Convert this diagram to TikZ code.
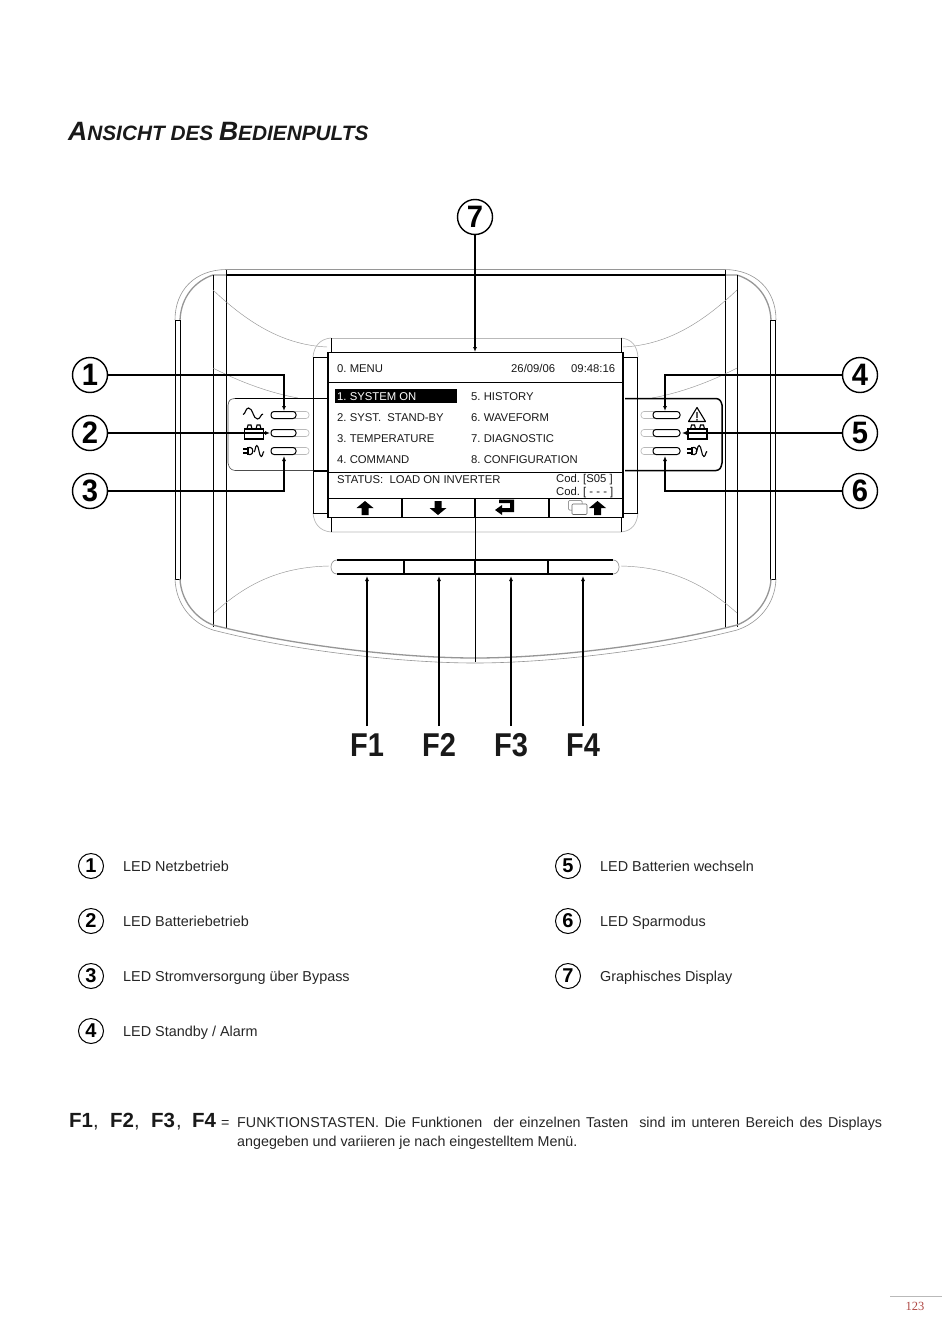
\documentclass[tikz,border=0pt]{standalone}
\usepackage{fontspec}
\setmainfont{Liberation Sans}
\usetikzlibrary{arrows.meta}
\definecolor{pagered}{RGB}{176,74,70}
\definecolor{soft}{RGB}{150,150,150}
\definecolor{softer}{RGB}{185,185,185}
\newcommand{\fsz}[1]{\fontsize{#1}{#1}\selectfont}
\newcommand{\narrow}[1]{\scalebox{.94}[1]{#1}}
\tikzset{
 x=1pt,y=-1pt,
 body/.style={line width=.9pt,black},
 hair/.style={line width=.45pt,soft},
 grayarc/.style={line width=1.3pt,soft},
 lead/.style={line width=1.1pt,black},
 leadtip/.style={lead,-{Latex[length=5pt,width=4pt]}},
 callout/.style={circle,draw,line width=1.4pt,minimum size=35pt,inner sep=0pt,font=\bfseries\fsz{31}},
 legcirc/.style={circle,draw,line width=1pt,minimum size=25pt,inner sep=0pt,font=\bfseries\fsz{20}},
 lcd/.style={anchor=base west,inner sep=0pt,font=\frenchspacing\fsz{11.3},text=black!90},
 leg/.style={anchor=base west,inner sep=0pt,font=\fsz{14.4},text=black!85},
 fkey/.style={anchor=base,inner sep=0pt,font=\bfseries\fsz{33},text=black!90},
 fsmall/.style={anchor=base west,inner sep=0pt,font=\bfseries\fsz{20.5},text=black!90},
 para/.style={anchor=base west,inner sep=0pt,font=\fsz{14.3},text=black!85},
 softkey/.style={fill=black,draw=none},
 icon/.style={line width=1.1pt,black},
}
\newcommand{\upkey}[2]{\fill[softkey] (#1,#2-7) -- (#1+8.5,#2) -- (#1+3.5,#2) -- (#1+3.5,#2+7) -- (#1-3.5,#2+7) -- (#1-3.5,#2) -- (#1-8.5,#2) -- cycle;}
\newcommand{\battery}[2]{\draw[icon] (#1-9.5,#2-4) rectangle (#1+9.5,#2+6);
 \draw[icon] (#1-7,#2-4) -- (#1-6,#2-8) -- (#1-3,#2-8) -- (#1-2,#2-4) (#1+2,#2-4) -- (#1+3,#2-8) -- (#1+6,#2-8) -- (#1+7,#2-4);}
% x, y, width of a one-period wave
\newcommand{\sinewave}[3]{\draw[icon] (#1,#2+.5) .. controls (#1+.12*#3,#2+.5) and (#1+.12*#3,#2-6) .. (#1+.28*#3,#2-6) .. controls (#1+.5*#3,#2-6) and (#1+.5*#3,#2+5) .. (#1+.72*#3,#2+5) .. controls (#1+.88*#3,#2+5) and (#1+.88*#3,#2) .. (#1+#3,#2);}
\newcommand{\plug}[2]{\fill (#1,#2-4) rectangle (#1+1.8,#2+4);
 \draw[icon] (#1+1.8,#2-3.5) -- (#1+3.5,#2-3.5) .. controls (#1+6.5,#2-3.5) and (#1+6.5,#2+3.5) .. (#1+3.5,#2+3.5) -- (#1+1.8,#2+3.5);
 \draw[icon] (#1-4,#2-2) -- (#1,#2-2) (#1-4,#2+2) -- (#1,#2+2);}
\begin{document}
\begin{tikzpicture}
\useasboundingbox (0,0) rectangle (950,1343);
\fill[white] (0,0) rectangle (950,1343);
% title
\node[anchor=base west,inner sep=0pt,font=\bfseries\itshape\fsz{20.8},text=black!90] (title) at (68,141) {{\fsz{26.5}A}NSICHT DES {\fsz{26.5}B}EDIENPULTS};
% housing
\draw[line width=.6pt,soft] (175,320) .. controls (175,290) and (195,270) .. (226,269.5) -- (725,269.5) .. controls (756,270) and (776,290) .. (776,320);
\draw[grayarc] (180,320) .. controls (181,297) and (195,281) .. (213,275) -- (226,275);
\draw[grayarc] (771,320) .. controls (770,297) and (756,281) .. (737,275) -- (725,275);
\draw[line width=2.2pt] (226,275) -- (725,275);
\draw[body] (175.5,320) rectangle (180.5,579);
\draw[body] (770.5,320) rectangle (775.5,579);
\draw[body] (213,275) -- (213,627) (226,270) -- (226,628) (725,270) -- (725,628) (737,275) -- (737,627);
\draw[line width=.6pt,soft] (175,579) .. controls (176,605) and (192,623) .. (213,630) .. controls (290,650) and (400,663) .. (475,663) .. controls (550,663) and (660,650) .. (737,630) .. controls (758,623) and (775,605) .. (776,579);
\draw[grayarc] (180,579) .. controls (181,600) and (195,618) .. (213,625) .. controls (290,645) and (400,658) .. (475,658) .. controls (550,658) and (660,645) .. (737,625) .. controls (755,618) and (770,600) .. (771,579);
% thin contours
\draw[hair] (213,290) .. controls (250,325) and (285,345) .. (327,347);
\draw[hair] (213,368) .. controls (240,382) and (270,393) .. (298,398);
\draw[hair] (737,290) .. controls (700,325) and (665,345) .. (623,347);
\draw[hair] (737,368) .. controls (710,382) and (680,393) .. (652,398);
\draw[hair] (329,566) .. controls (285,567) and (250,580) .. (214,613);
\draw[hair] (621,566) .. controls (665,567) and (700,580) .. (737,613);
% display surround
\draw[line width=.7pt,softer] (331,338) -- (621,338);
\draw[line width=.7pt,softer] (331,338) .. controls (320,339) and (314,346) .. (313,357);
\draw[line width=.7pt,softer] (621,338) .. controls (632,339) and (637,346) .. (638,357);
\draw[line width=.7pt,softer] (313,513) .. controls (314,524) and (320,531) .. (331,532) -- (621,532) .. controls (632,531) and (637,524) .. (638,513);
\draw[body] (331,338) -- (331,352) (621,338) -- (621,352) (331,518) -- (331,532) (621,518) -- (621,532);
\draw[body] (313,357) rectangle (328,513);
\draw[body] (623,357) rectangle (637.5,513);
% LED panels
\draw[line width=1.5pt] (235,398.5) -- (327,398.5) (313,471) -- (327,471);
\draw[line width=.6pt,black!70] (235,398.5) .. controls (230,399) and (229,400) .. (228,405) -- (228,463) .. controls (229,468) and (231,470) .. (235,470.5) -- (313,470.5);
\draw[line width=1.5pt] (625,398.5) -- (716,398.5) .. controls (720,399) and (721,401) .. (722,405) -- (722,463) .. controls (721,468) and (720,470) .. (716,470.5) -- (625,470.5);
\draw[line width=1.7pt] (637.5,398) -- (637.5,471);
% LEDs
\foreach \yy in {415,433,451}{
 \draw[line width=.6pt,softer,rounded corners=3pt] (285,\yy-3.5) rectangle (309,\yy+3.5);
 \draw[line width=1pt,fill=white,rounded corners=3pt] (271,\yy-3.5) rectangle (296,\yy+3.5);
 \draw[line width=.6pt,softer,rounded corners=3pt] (641,\yy-3.5) rectangle (660,\yy+3.5);
 \draw[line width=1pt,fill=white,rounded corners=3pt] (653,\yy-3.5) rectangle (680,\yy+3.5);
}
\sinewave{243}{414}{20}
\battery{254}{433}
\plug{247}{451}
\sinewave{254}{451.5}{10}
\draw[icon,line join=round] (697,407.5) -- (705.5,421.5) -- (688.5,421.5) -- cycle;
\fill (696.3,412) rectangle (697.7,418) (696.3,419) rectangle (697.7,420.5);
\battery{697.5}{433}
\plug{691}{451}
\sinewave{696}{451.5}{11}
% display
\draw[line width=1.2pt,fill=white] (328,352.5) rectangle (623,517.5);
\draw[body] (328,382) -- (623,382) (328,472.5) -- (623,472.5) (328,498) -- (623,498);
\draw[line width=1.1pt] (402,498) -- (402,518) (475,498) -- (475,518) (549,498) -- (549,518);
\fill (335,389) rectangle (457,403);
\node[lcd] (d0) at (337,372) {0. MENU};
\node[lcd] (d01) at (511,372) {26/09/06};
\node[lcd] (d02) at (571,372) {09:48:16};
\node[lcd,text=white] (m1) at (337,400) {1. SYSTEM ON};
\node[lcd] (m2) at (337,421) {2. SYST.\ \ STAND-BY};
\node[lcd] (m3) at (337,442) {3. TEMPERATURE};
\node[lcd] (m4) at (337,463) {4. COMMAND};
\node[lcd] (m5) at (471,400) {5. HISTORY};
\node[lcd] (m6) at (471,421) {6. WAVEFORM};
\node[lcd] (m7) at (471,442) {7. DIAGNOSTIC};
\node[lcd] (m8) at (471,463) {8. CONFIGURATION};
\node[lcd] (st) at (337,483) {STATUS:\ \ LOAD ON INVERTER};
\node[lcd] (cod1) at (556,482.5) {Cod. [S05 ]};
\node[lcd] (cod2) at (556,495) {Cod. [ - - - ]};
\upkey{365}{508}
\fill[softkey] (438,515) -- (446.5,508) -- (441.5,508) -- (441.5,501) -- (434.5,501) -- (434.5,508) -- (429.5,508) -- cycle;
\fill[softkey] (495,510) -- (502,505) -- (502,508) -- (510,508) -- (510,503) -- (499,503) -- (499,499.5) -- (514,499.5) -- (514,512) -- (502,512) -- (502,515) -- cycle;
\draw[line width=.5pt,black!60,fill=white,rounded corners=1pt] (568.5,500.5) rectangle (582,510);
\draw[line width=.6pt,black!60,fill=white,rounded corners=1pt] (572,504) rectangle (587,514.5);
\upkey{597.5}{508}
% function keys
\draw[line width=.7pt,soft] (337,560) .. controls (329,560) and (329,574) .. (337,574);
\draw[line width=.7pt,soft] (613,560) .. controls (621,560) and (621,574) .. (613,574);
\draw[line width=1.1pt] (337,560) -- (613,560);
\draw[line width=1.5pt] (337,574) -- (613,574);
\draw[line width=.9pt] (403,560) -- (403,574) (404.5,560) -- (404.5,574) (474.5,560) -- (474.5,574) (547,560) -- (547,574) (548.5,560) -- (548.5,574);
% thin centre line
\draw[line width=.6pt] (475,518) -- (475,662);
% callouts
\node[callout] (c7) at (475,217) {\narrow{7}};
\node[callout] (c1) at (90,375) {\narrow{1}};
\node[callout] (c2) at (90,433) {\narrow{2}};
\node[callout] (c3) at (90,491) {\narrow{3}};
\node[callout] (c4) at (860,375) {\narrow{4}};
\node[callout] (c5) at (860,433) {\narrow{5}};
\node[callout] (c6) at (860,491) {\narrow{6}};
\coordinate (t7) at (475,352);
\coordinate (t1) at (284,411);
\coordinate (t2) at (270,433);
\coordinate (t3) at (284,456);
\coordinate (t4) at (665,411);
\coordinate (t5) at (682,433);
\coordinate (t6) at (665,456);
\draw[leadtip] (c7) -- (t7);
\draw[leadtip] (c1) -| (t1);
\draw[leadtip] (c2) -- (t2);
\draw[leadtip] (c3) -| (t3);
\draw[leadtip] (c4) -| (t4);
\draw[leadtip] (c5) -- (t5);
\draw[leadtip] (c6) -| (t6);
% F labels
\node[fkey] (f1) at (367,756) {\scalebox{.88}[1]{F1}};
\node[fkey] (f2) at (439,756) {\scalebox{.88}[1]{F2}};
\node[fkey] (f3) at (511,756) {\scalebox{.88}[1]{F3}};
\node[fkey] (f4) at (583,756) {\scalebox{.88}[1]{F4}};
\coordinate (k1) at (367,576);
\coordinate (k2) at (439,576);
\coordinate (k3) at (511,576);
\coordinate (k4) at (583,576);
\coordinate (b1) at (367,726);
\coordinate (b2) at (439,726);
\coordinate (b3) at (511,726);
\coordinate (b4) at (583,726);
\draw[leadtip] (b1) -- (k1);
\draw[leadtip] (b2) -- (k2);
\draw[leadtip] (b3) -- (k3);
\draw[leadtip] (b4) -- (k4);
% legend
\node[legcirc] (l1) at (91,866) {1};
\node[legcirc] (l2) at (91,921) {2};
\node[legcirc] (l3) at (91,976) {3};
\node[legcirc] (l4) at (91,1031) {4};
\node[legcirc] (l5) at (568,866) {5};
\node[legcirc] (l6) at (568,921) {6};
\node[legcirc] (l7) at (568,976) {7};
\node[leg] (t1a) at (123,871) {LED Netzbetrieb};
\node[leg] (t2a) at (123,926) {LED Batteriebetrieb};
\node[leg] (t3a) at (123,981) {LED Stromversorgung über Bypass};
\node[leg] (t4a) at (123,1036) {LED Standby / Alarm};
\node[leg] (t5a) at (600,871) {LED Batterien wechseln};
\node[leg] (t6a) at (600,926) {LED Sparmodus};
\node[leg] (t7a) at (600,981) {Graphisches Display};
% footnote
\node[fsmall] (s1) at (69,1127) {F1};
\node[para,font=\fsz{20}] (s1c) at (93,1127) {,};
\node[fsmall] (s2) at (110,1127) {F2};
\node[para,font=\fsz{20}] (s2c) at (134,1127) {,};
\node[fsmall] (s3) at (151,1127) {F3};
\node[para,font=\fsz{20}] (s3c) at (176,1127) {,};
\node[fsmall] (s4) at (192,1127) {F4};
\node[para] (eq) at (221,1127) {=};
\node[para] (p1) at (237,1127) {\makebox[645pt][s]{FUNKTIONSTASTEN. Die Funktionen\ \ der einzelnen Tasten\ \ sind im unteren Bereich des Displays}};
\node[para] (p2) at (237,1146) {angegeben und variieren je nach eingestelltem Menü.};
% page number
\draw[line width=.5pt,softer] (890,1296) -- (942,1296);
\node[inner sep=0pt,font=\fontspec{Liberation Serif}\fsz{12.5},text=pagered] (pg) at (915,1306) {123};
\end{tikzpicture}
\end{document}
